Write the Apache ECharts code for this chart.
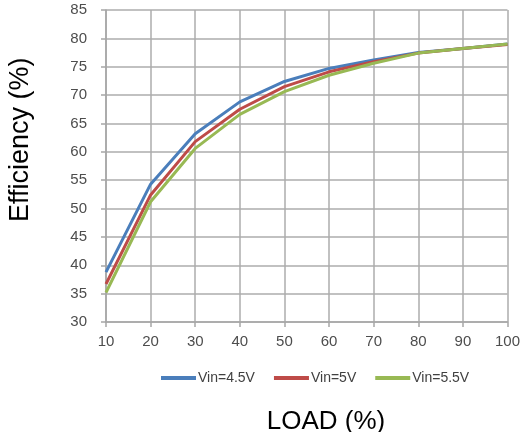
<!DOCTYPE html>
<html>
<head>
<meta charset="utf-8">
<script src="https://cdn.jsdelivr.net/npm/echarts@6/dist/echarts.min.js"></script>
<style>html,body{margin:0;padding:0;background:#fff}#c{width:523px;height:432px}</style>
</head>
<body>
<div id="c"></div>
<script>
const loads = [10, 20, 30, 40, 50, 60, 70, 80, 90, 100];
const vin45 = [38.8, 54.3, 63.2, 68.8, 72.4, 74.7, 76.2, 77.5, 78.2, 79.0];
const vin50 = [36.7, 52.4, 61.8, 67.5, 71.5, 74.1, 75.9, 77.4, 78.2, 78.9];
const vin55 = [35.2, 51.2, 60.6, 66.6, 70.6, 73.5, 75.6, 77.4, 78.2, 79.0];
const seriesNames = ['Vin=4.5V', 'Vin=5V', 'Vin=5.5V'];
const colors = ['#4A7EBB', '#BE4B48', '#98B954'];

const chart = echarts.init(document.getElementById('c'));
const mk = (name, vals, color) => ({
  name, type: 'line', data: loads.map((x, i) => [x, vals[i]]),
  showSymbol: false, symbol: 'none',
  lineStyle: { color, width: 3 }, itemStyle: { color }
});
chart.setOption({
  animation: false,
  grid: { left: 106, right: 12, top: 10, bottom: 110 },
  legend: {
    data: seriesNames, top: 366, left: 156,
    itemWidth: 35, itemHeight: 4, itemGap: 19,
    icon: 'rect',
    textStyle: { fontFamily: 'Liberation Sans', fontSize: 14, color: '#404040', padding: [0, 0, 0, -3] }
  },
  xAxis: {
    type: 'value', min: 10, max: 100, interval: 10,
    axisLine: { show: true, lineStyle: { color: '#a6a6a6', width: 1.5 } },
    axisTick: { show: true, length: 5, lineStyle: { color: '#a6a6a6', width: 1.5 } },
    splitLine: { show: true, lineStyle: { color: '#adadad', width: 1.5 } },
    axisLabel: { fontFamily: 'Liberation Sans', fontSize: 15, color: '#4d4d4d', margin: 12 }
  },
  yAxis: {
    type: 'value', min: 30, max: 85, interval: 5,
    axisLine: { show: true, lineStyle: { color: '#a6a6a6', width: 1.5 } },
    axisTick: { show: true, length: 5, lineStyle: { color: '#a6a6a6', width: 1.5 } },
    splitLine: { show: true, lineStyle: { color: '#adadad', width: 1.5 } },
    axisLabel: { fontFamily: 'Liberation Sans', fontSize: 15, color: '#4d4d4d', margin: 19 }
  },
  graphic: [
    { type: 'text', x: 326, y: 435,
      style: { text: 'LOAD (%)', font: '26px "Liberation Sans"', fill: '#000', align: 'center', verticalAlign: 'bottom' } },
    { type: 'text', x: 7, y: 222, rotation: Math.PI / 2,
      style: { text: 'Efficiency (%)', font: '27px "Liberation Sans"', fill: '#000', align: 'left', verticalAlign: 'top' } }
  ],
  series: [
    mk(seriesNames[0], vin45, colors[0]),
    mk(seriesNames[1], vin50, colors[1]),
    mk(seriesNames[2], vin55, colors[2])
  ]
});
</script>
</body>
</html>
